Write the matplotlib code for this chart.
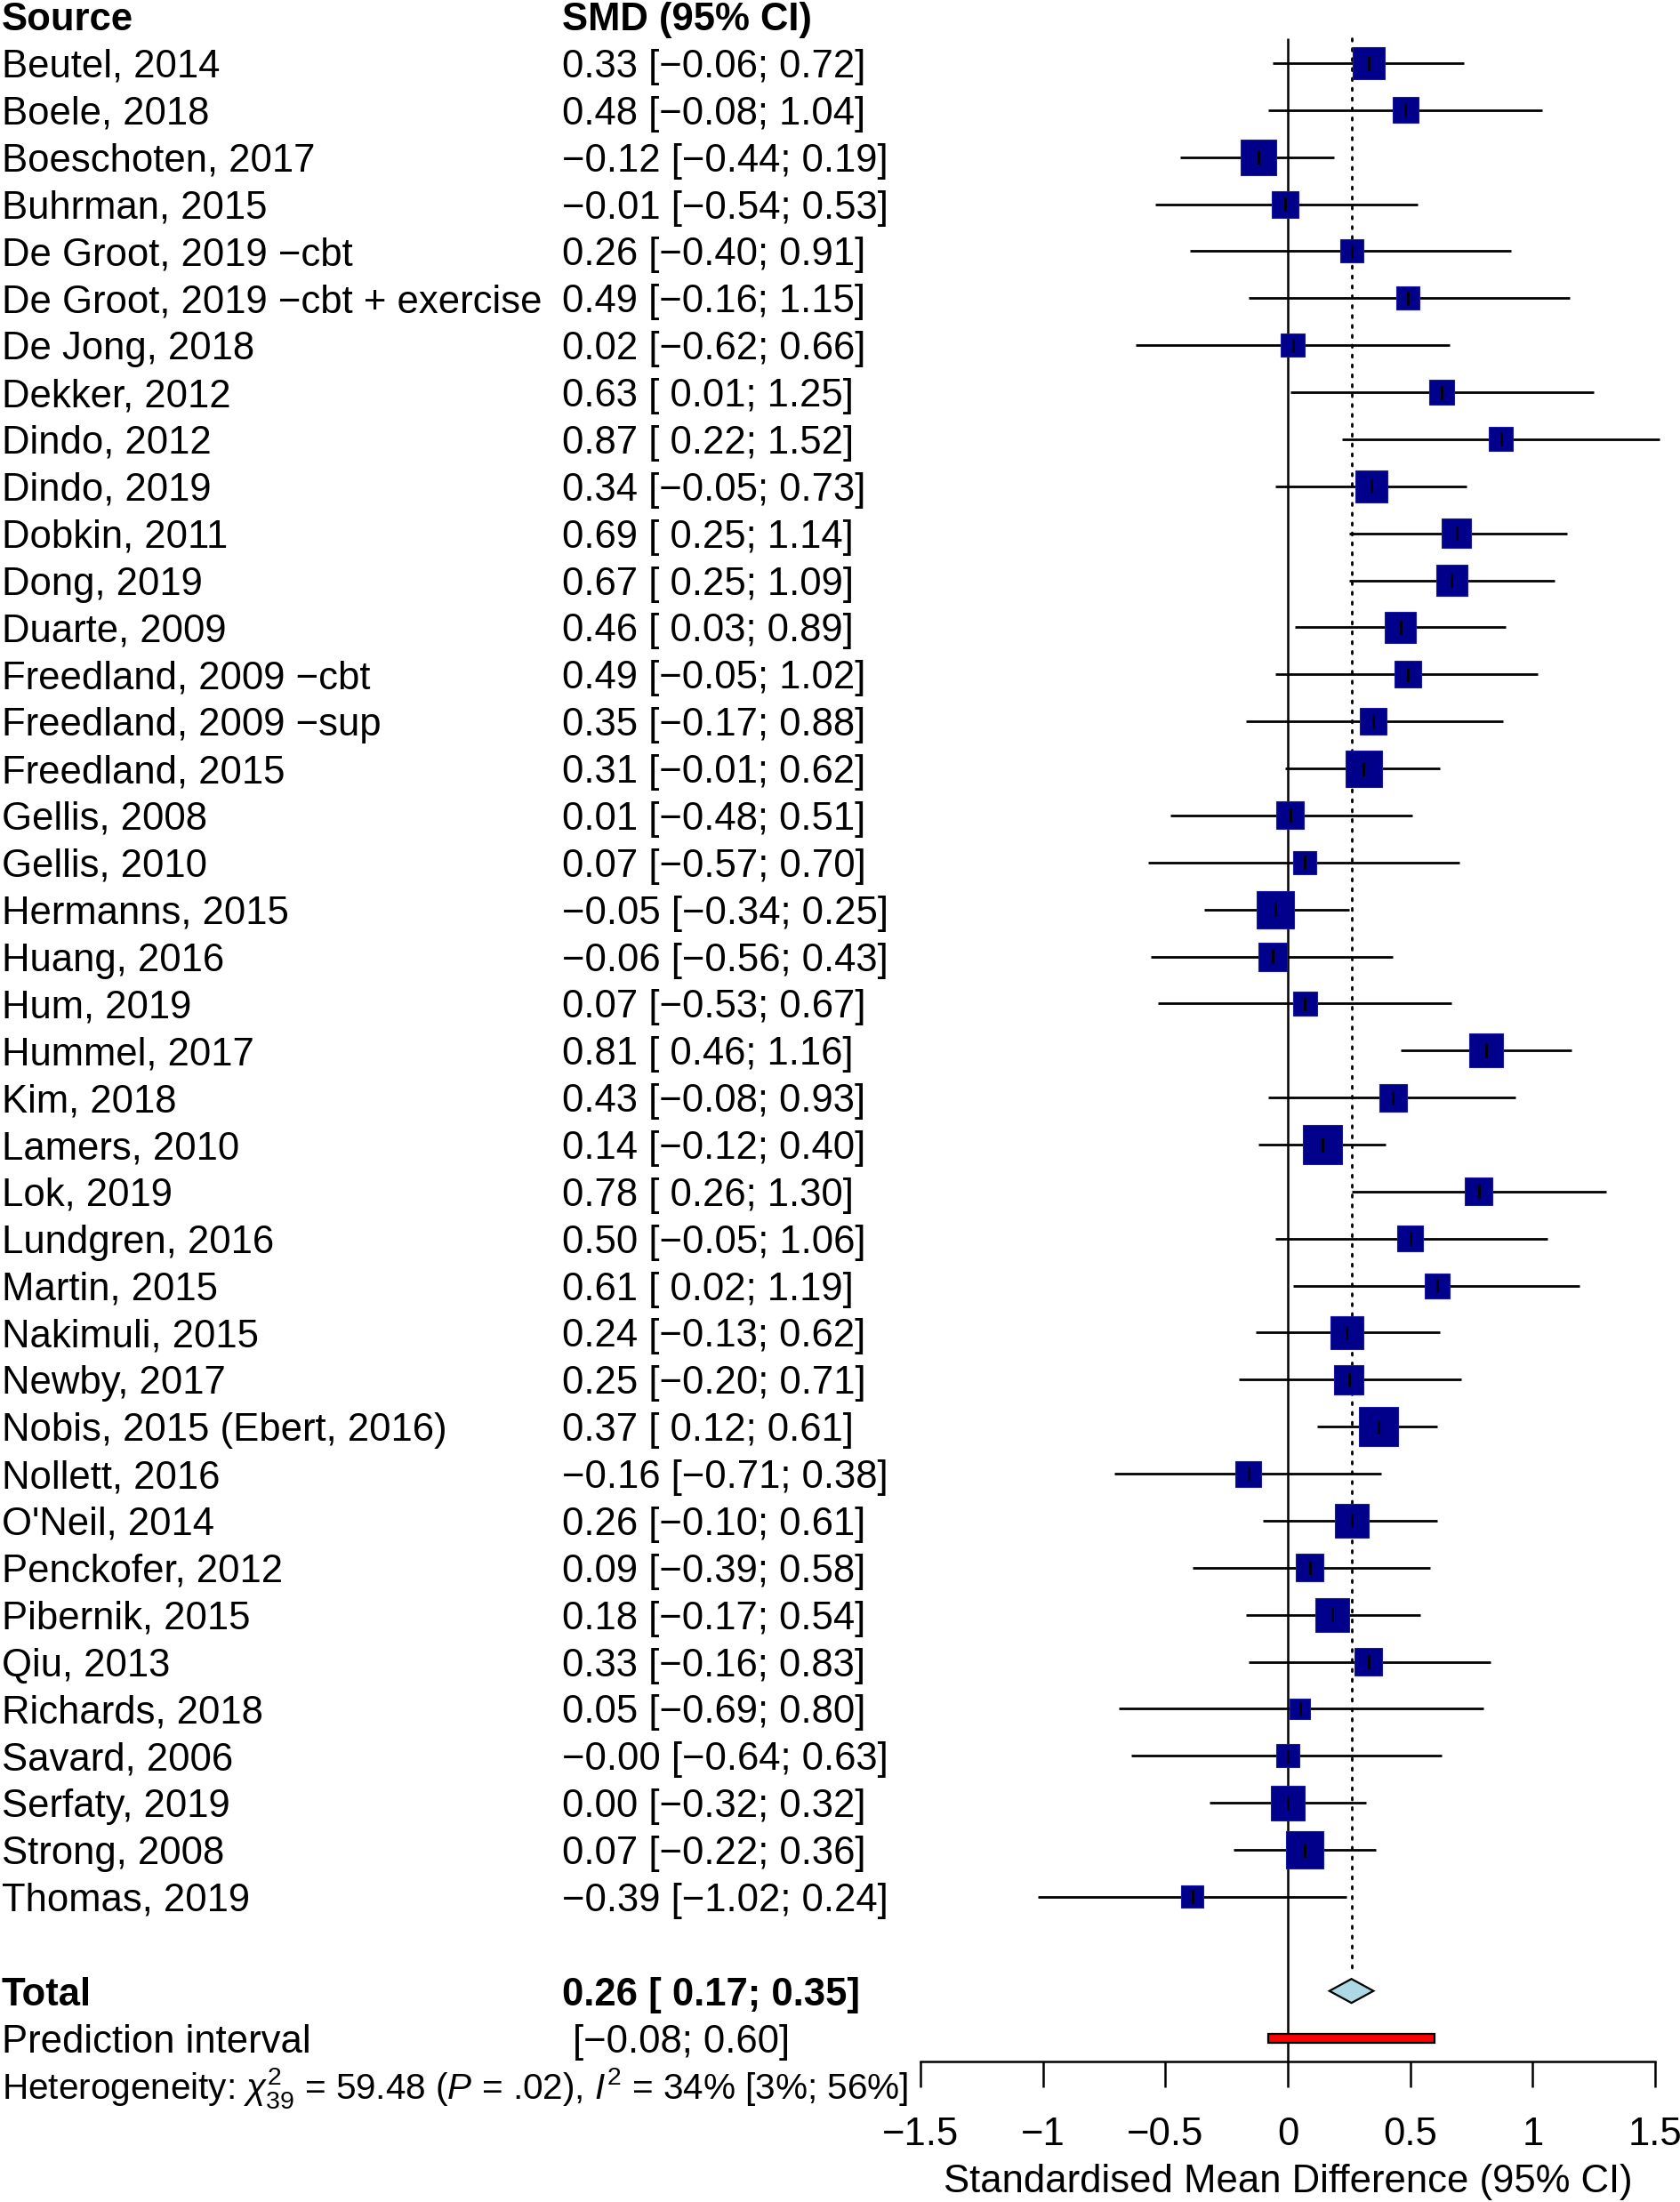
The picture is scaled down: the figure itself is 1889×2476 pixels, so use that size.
"""Forest plot: standardised mean difference per study, random-effects total and prediction interval."""

import matplotlib
matplotlib.use("Agg")
import matplotlib.pyplot as plt
from matplotlib.patches import Polygon, Rectangle

plt.rcParams["font.family"] = ["Liberation Sans", "DejaVu Sans"]
plt.rcParams["mathtext.fontset"] = "custom"
plt.rcParams["mathtext.rm"] = "Liberation Sans"
plt.rcParams["mathtext.it"] = "Liberation Sans:italic"
plt.rcParams["mathtext.bf"] = "Liberation Sans:bold"

MINUS = "\u2212"

studies = [
    "Beutel, 2014", "Boele, 2018", "Boeschoten, 2017", "Buhrman, 2015",
    f"De Groot, 2019 {MINUS}cbt", f"De Groot, 2019 {MINUS}cbt + exercise",
    "De Jong, 2018", "Dekker, 2012", "Dindo, 2012", "Dindo, 2019",
    "Dobkin, 2011", "Dong, 2019", "Duarte, 2009", f"Freedland, 2009 {MINUS}cbt",
    f"Freedland, 2009 {MINUS}sup", "Freedland, 2015", "Gellis, 2008", "Gellis, 2010",
    "Hermanns, 2015", "Huang, 2016", "Hum, 2019", "Hummel, 2017", "Kim, 2018",
    "Lamers, 2010", "Lok, 2019", "Lundgren, 2016", "Martin, 2015", "Nakimuli, 2015",
    "Newby, 2017", "Nobis, 2015 (Ebert, 2016)", "Nollett, 2016", "O'Neil, 2014",
    "Penckofer, 2012", "Pibernik, 2015", "Qiu, 2013", "Richards, 2018",
    "Savard, 2006", "Serfaty, 2019", "Strong, 2008", "Thomas, 2019",
]
smd = [0.33, 0.48, -0.12, -0.01, 0.26, 0.49, 0.02, 0.63, 0.87, 0.34,
       0.69, 0.67, 0.46, 0.49, 0.35, 0.31, 0.01, 0.07, -0.05, -0.06,
       0.07, 0.81, 0.43, 0.14, 0.78, 0.50, 0.61, 0.24, 0.25, 0.37,
       -0.16, 0.26, 0.09, 0.18, 0.33, 0.05, -0.0, 0.00, 0.07, -0.39]
lower = [-0.06, -0.08, -0.44, -0.54, -0.40, -0.16, -0.62, 0.01, 0.22, -0.05,
         0.25, 0.25, 0.03, -0.05, -0.17, -0.01, -0.48, -0.57, -0.34, -0.56,
         -0.53, 0.46, -0.08, -0.12, 0.26, -0.05, 0.02, -0.13, -0.20, 0.12,
         -0.71, -0.10, -0.39, -0.17, -0.16, -0.69, -0.64, -0.32, -0.22, -1.02]
upper = [0.72, 1.04, 0.19, 0.53, 0.91, 1.15, 0.66, 1.25, 1.52, 0.73,
         1.14, 1.09, 0.89, 1.02, 0.88, 0.62, 0.51, 0.70, 0.25, 0.43,
         0.67, 1.16, 0.93, 0.40, 1.30, 1.06, 1.19, 0.62, 0.71, 0.61,
         0.38, 0.61, 0.58, 0.54, 0.83, 0.80, 0.63, 0.32, 0.36, 0.24]
# random-effects weights (%)
weight = [2.96, 1.92, 3.66, 2.06, 1.55, 1.55, 1.55, 1.79, 1.67, 2.96,
          2.49, 2.80, 2.80, 2.06, 2.06, 3.84, 2.20, 1.55, 4.03, 2.34,
          1.67, 3.30, 2.20, 4.43, 2.20, 1.92, 1.79, 3.13, 2.49, 4.43,
          1.92, 3.30, 2.20, 3.30, 2.20, 1.21, 1.55, 3.48, 4.03, 1.43]

total = (0.26, 0.17, 0.35)
pred_interval = (-0.08, 0.60)
heterogeneity = r"Heterogeneity: $\chi^2_{39}$ = 59.48 ($P$ = .02), $I^2$ = 34% [3%; 56%]"
ticks = [-1.5, -1, -0.5, 0, 0.5, 1, 1.5]

# ---- layout, in output pixels ------------------------------------------------
W, H = 1890, 2476
PPU = 275.3          # pixels per SMD unit
ZERO_PX = 1448       # x pixel of SMD = 0
ROW0_PX, ROW_H = 71, 52.87
AXIS_PX = 2318
FS = 31.4
COL2 = 632 / W


def num(v):
    return f"{v:.2f}".replace("-", MINUS)


def ci_text(m, lo, hi):
    lo_s = num(lo) if lo < 0 else " " + num(lo)
    return f"{num(m)} [{lo_s}; {num(hi)}]"


fig = plt.figure(figsize=(W / 100, H / 100), dpi=100)
ax = fig.add_axes([0, (H - AXIS_PX) / H, 1, AXIS_PX / H])
ax.set_xlim(-ZERO_PX / PPU, (W - ZERO_PX) / PPU)
ax.set_ylim((AXIS_PX - ROW0_PX) / ROW_H, -ROW0_PX / ROW_H)
for side in ("left", "right", "top"):
    ax.spines[side].set_visible(False)
ax.yaxis.set_visible(False)
ax.spines["bottom"].set_bounds(ticks[0], ticks[-1])
ax.spines["bottom"].set_linewidth(1.8)
ax.set_xticks(ticks)
ax.set_xticklabels([f"{t:g}".replace("-", MINUS) for t in ticks], fontsize=FS)
ax.tick_params(axis="x", direction="out", length=20.9, width=1.8, pad=24)
ax.set_xlabel("Standardised Mean Difference (95% CI)", fontsize=FS)
ax.xaxis.set_label_coords(ZERO_PX / W, -(2453 - AXIS_PX) / AXIS_PX)
ax.xaxis.label.set_va("center")

tx = ax.get_yaxis_transform()
n = len(studies)
rows = list(range(n))
row_total, row_pi, row_het = n + 1, n + 2, n + 3

# reference lines
ax.plot([0, 0], [-0.53, ax.get_ylim()[0]], color="black", lw=1.8, solid_capstyle="butt")
ax.plot([total[0]] * 2, [-0.53, row_total - 0.4], color="black", lw=2.0,
        ls=(0, (1, 3)), dash_capstyle="round")

box_k = 20.9  # square side in px per sqrt(weight %)
for r, m, lo, hi, w in zip(rows, smd, lower, upper, weight):
    ax.plot([lo, hi], [r, r], color="black", lw=2.0, solid_capstyle="butt", zorder=3)
    side = box_k * w ** 0.5
    ax.add_patch(Rectangle((m - side / 2 / PPU, r - side / 2 / ROW_H), side / PPU, side / ROW_H,
                           facecolor="#00008B", edgecolor="#1a1aa0", lw=0.8, zorder=4))
    ax.plot([m, m], [r - 6.5 / ROW_H, r + 6.5 / ROW_H], color="black", lw=2.0, zorder=5)

# summary diamond and prediction interval
half = 13.5 / ROW_H
ax.add_patch(Polygon([(total[1], row_total), (total[0], row_total - half),
                      (total[2], row_total), (total[0], row_total + half)],
                     closed=True, facecolor="#ADD8E6", edgecolor="black", lw=1.6, zorder=4))
ph = 10 / ROW_H
ax.add_patch(Rectangle((pred_interval[0], row_pi - ph / 2), pred_interval[1] - pred_interval[0], ph,
                       facecolor="red", edgecolor="black", lw=1.6, zorder=4))

# text columns
kw = dict(transform=tx, va="center_baseline", clip_on=False)
ax.text(0.001, -1, "Source", fontsize=FS, fontweight="bold", **kw)
ax.text(COL2, -1, "SMD (95% CI)", fontsize=FS, fontweight="bold", **kw)
for r, name, m, lo, hi in zip(rows, studies, smd, lower, upper):
    ax.text(0.001, r, name, fontsize=FS, **kw)
    ax.text(COL2, r, ci_text(m, lo, hi), fontsize=FS, **kw)
ax.text(0.001, row_total, "Total", fontsize=FS, fontweight="bold", **kw)
ax.text(COL2, row_total, ci_text(*total), fontsize=FS, fontweight="bold", **kw)
ax.text(0.001, row_pi, "Prediction interval", fontsize=FS, **kw)
ax.text(644 / W, row_pi, f"[{num(pred_interval[0])}; {num(pred_interval[1])}]", fontsize=FS, **kw)
ax.text(0.001, row_het - 0.05, heterogeneity, fontsize=29.2, **kw)

fig.savefig("out.png", dpi=100)
